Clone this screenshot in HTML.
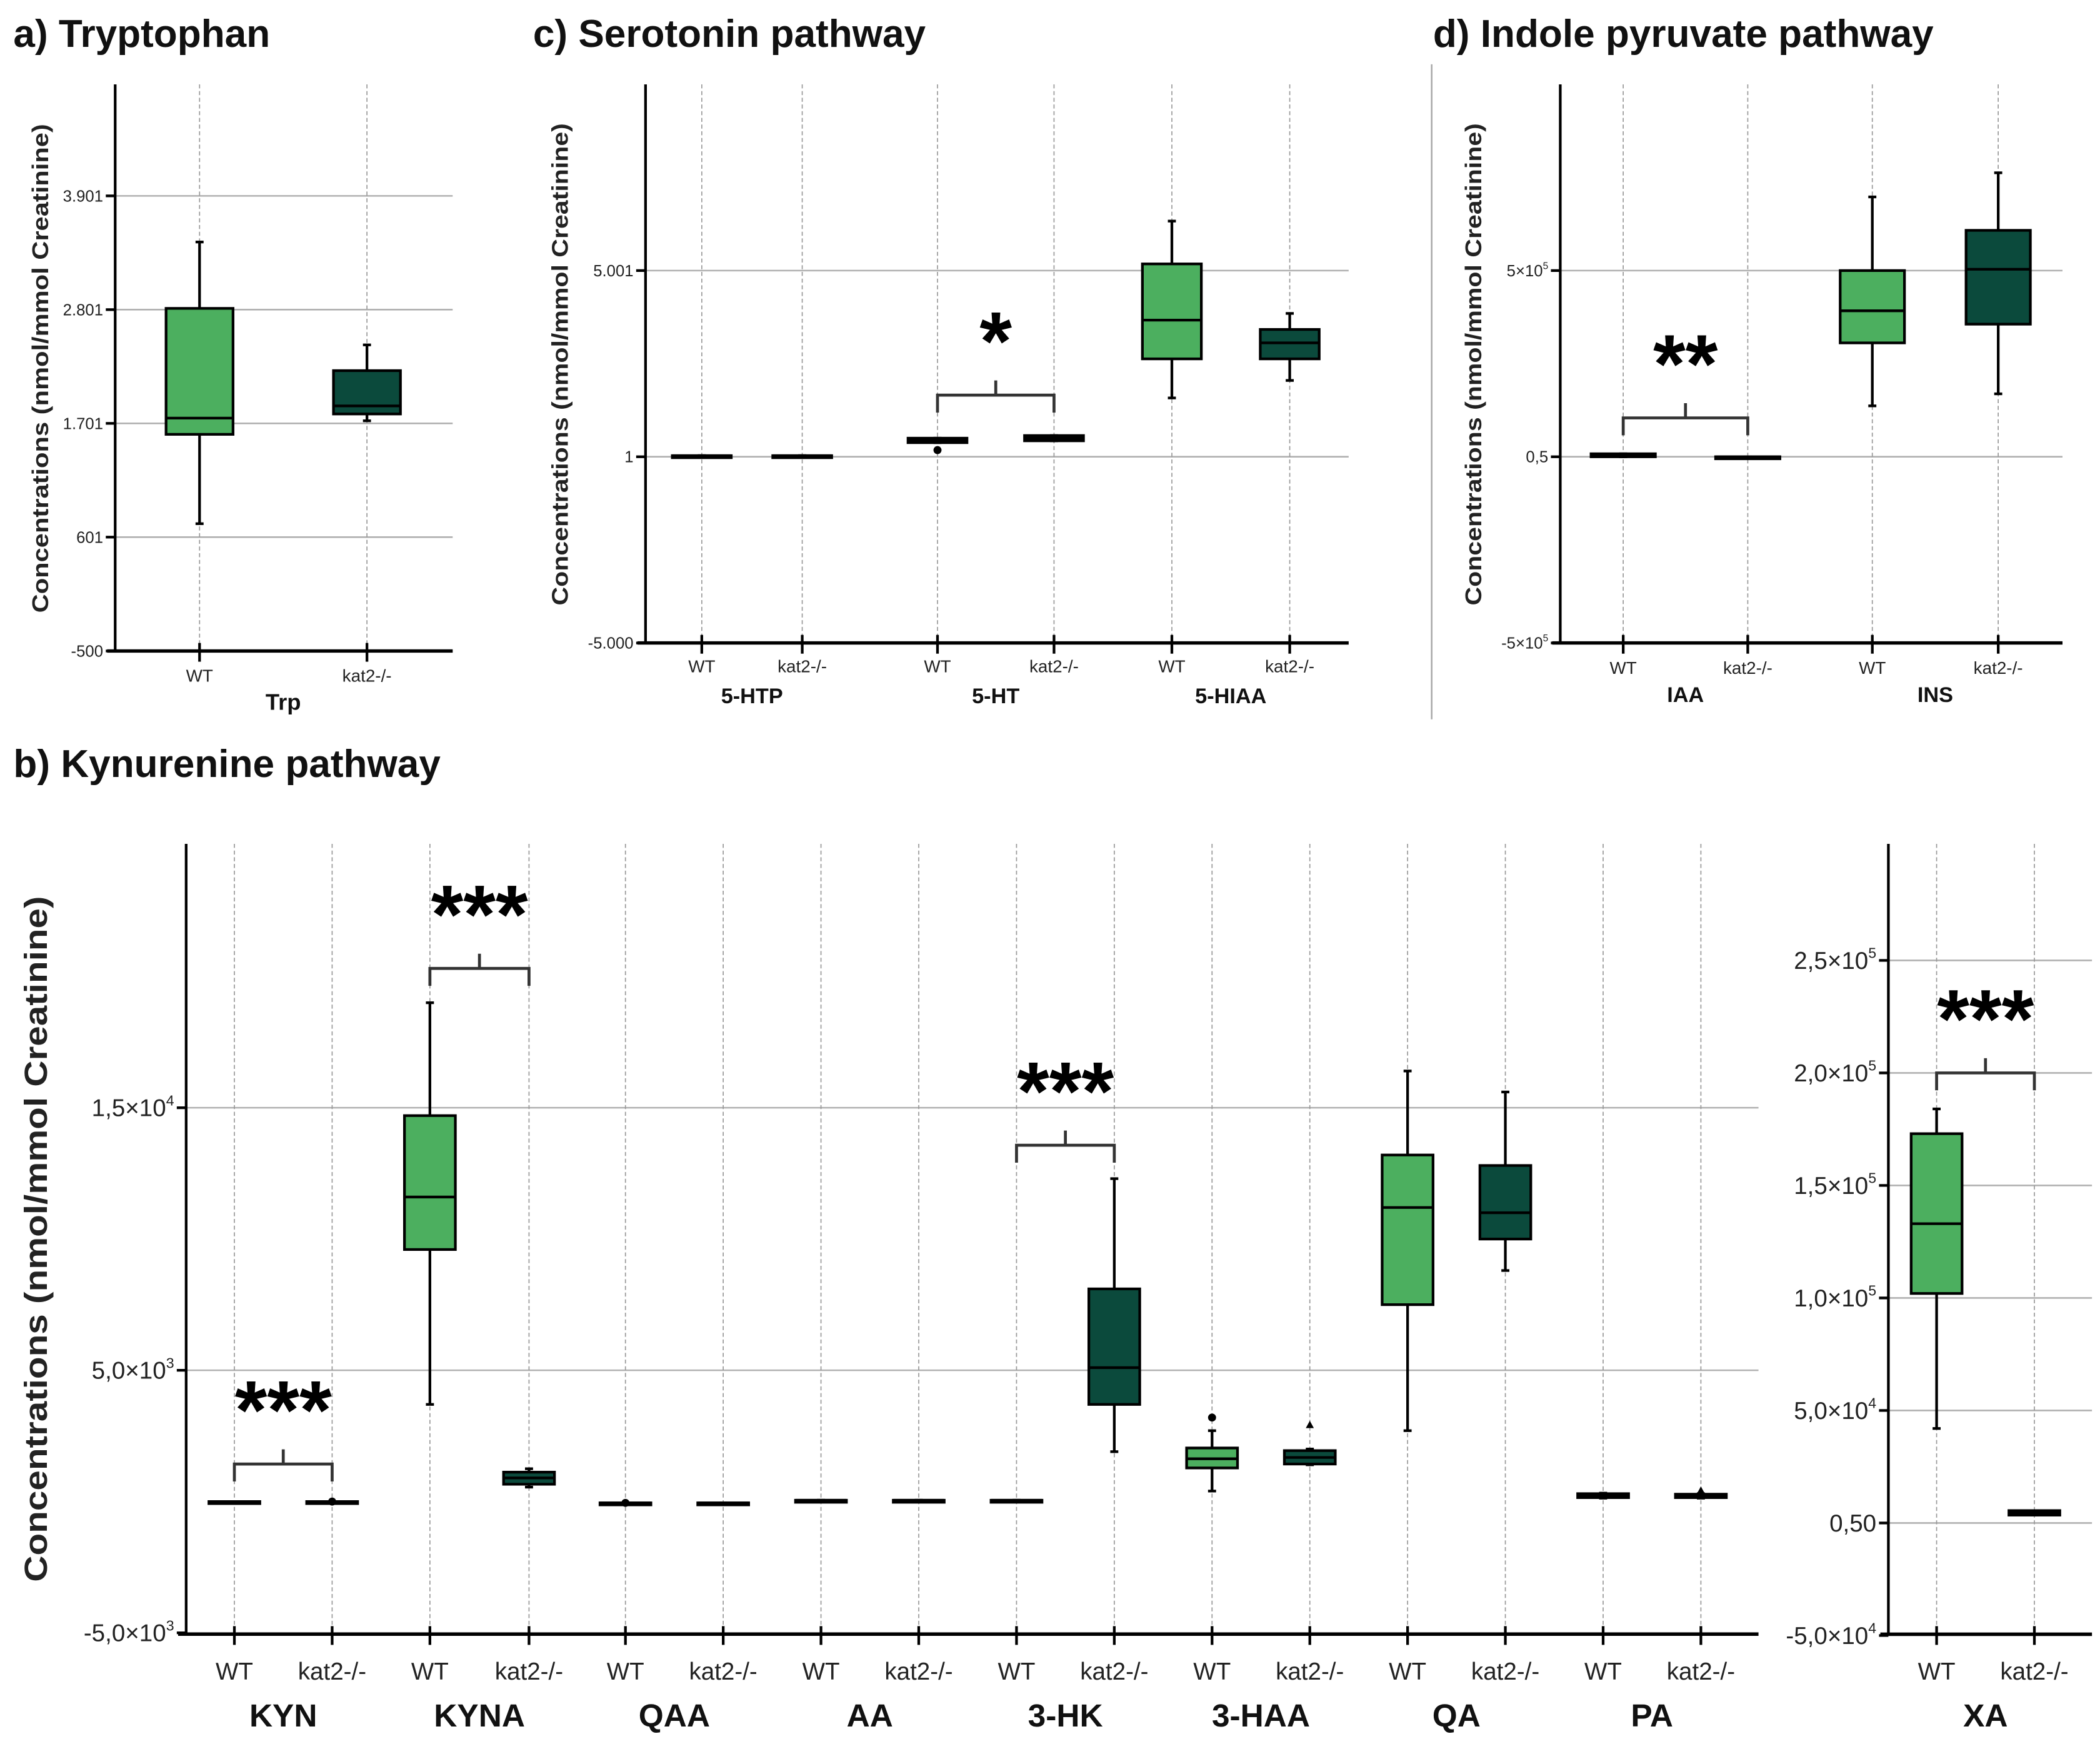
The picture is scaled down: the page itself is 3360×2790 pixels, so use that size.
<!DOCTYPE html>
<html><head><meta charset="utf-8"><style>
html,body{margin:0;padding:0;background:#fff}
svg{display:block}
text{font-family:"Liberation Sans",sans-serif}
</style></head><body>
<svg id="fig" width="3360" height="2790" viewBox="0 0 1568 1302" xmlns="http://www.w3.org/2000/svg"></svg>
<script>
// ---------- DATA ----------
// box stats: [whiskerLow, q1, median, q3, whiskerHigh]
const trpGroups = ["Trp"];
const trpWT = [731, 1595, 1752, 2813, 3455];
const trpKO = [1726, 1792, 1870, 2211, 2460];
const trpTicks = [-500, 601, 1701, 2801, 3901];
const trpTickLabels = ["-500", "601", "1.701", "2.801", "3.901"];

const serGroups = ["5-HTP", "5-HT", "5-HIAA"];
const serWT = [[30,30,30,30,30],[380,380,430,500,500],[1580,2630,3670,5180,6330]];
const serKO = [[30,30,30,30,30],[430,430,500,570,570],[2050,2630,3060,3420,3850]];
const serTicks = [-5000, 1, 5001];
const serTickLabels = ["-5.000", "1", "5.001"];

const indGroups = ["IAA", "INS"];
const indWT = [[0,0,5000,8000,8000],[136700,305800,392000,500000,697800]];
const indKO = [[0,0,0,0,0],[169000,356100,503600,608000,762600]];
const indTicks = [-500000, 0.5, 500000];
const indTickLabels = [["-5×10","5"], ["0,5",""], ["5×10","5"]];

const kynGroups = ["KYN","KYNA","QAA","AA","3-HK","3-HAA","QA","PA"];
const kynWT = [[0,0,0,0,0],[3700,9600,11600,14700,19000],[-50,-50,-50,-50,-50],[50,50,50,50,50],[50,50,50,50,50],[400,1280,1630,2040,2700],[2700,7500,11200,13200,16400],[130,150,220,300,320]];
const kynKO = [[0,0,0,0,0],[550,660,900,1120,1250],[-50,-50,-50,-50,-50],[50,50,50,50,50],[1900,3700,5100,8100,12300],[1400,1430,1680,1940,2000],[8800,10000,11000,12800,15600],[130,150,200,280,300]];
const kynTicks = [-5000, 5000, 15000];
const kynTickLabels = [["-5,0×10","3"],["5,0×10","3"],["1,5×10","4"]];

const xaGroups = ["XA"];
const xaWT = [42000, 102000, 133000, 173000, 184000];
const xaKO = [3500, 3500, 4500, 5500, 5500];
const xaTicks = [-50000, 0.5, 50000, 100000, 150000, 200000, 250000];
const xaTickLabels = [["-5,0×10","4"],["0,50",""],["5,0×10","4"],["1,0×10","5"],["1,5×10","5"],["2,0×10","5"],["2,5×10","5"]];

// ---------- DRAW ----------
const NS = "http://www.w3.org/2000/svg";
const svg = document.getElementById("fig");
const LIGHT = "#4caf5f", DARK = "#0b4a3c";
function el(tag, attrs, parent, txt) {
  const e = document.createElementNS(NS, tag);
  for (const k in attrs) e.setAttribute(k, attrs[k]);
  if (txt !== undefined) e.textContent = txt;
  (parent || svg).appendChild(e);
  return e;
}
function linScale(v0, p0, v1, p1) { return v => p0 + (v - v0) * (p1 - p0) / (v1 - v0); }

function drawPanel(cfg) {
  const g = el("g", {});
  
  
  const y = cfg.y;
  cfg.ticks.forEach((t, i) => {
    const gl = el("line", {x1: cfg.ax, x2: cfg.gridEnd, y1: y(t), y2: y(t), stroke: "#b0b0b0", "stroke-width": 1.2}, g);
    
    
  });
  cfg.cats.forEach(cx => {
    const vl = el("line", {x1: cx, x2: cx, y1: cfg.top, y2: cfg.base, stroke: "#999", "stroke-width": 0.8, "stroke-dasharray": "3,2"}, g);
    
    
  });
  const ya = el("line", {x1: cfg.ax, x2: cfg.ax, y1: cfg.top, y2: cfg.base, stroke: "#000", "stroke-width": 2}, g);
  
  
  const xa = el("line", {x1: cfg.ax - 6, x2: cfg.xEnd, y1: cfg.base, y2: cfg.base, stroke: "#000", "stroke-width": 2.5}, g);
  
  
  cfg.ticks.forEach((t, i) => {
    el("line", {x1: cfg.ax - 7, x2: cfg.ax, y1: y(t), y2: y(t), stroke: "#000", "stroke-width": 2}, g);
    const lab = cfg.labels[i];
    const tx = el("text", {x: cfg.ax - 9, y: y(t) + cfg.tfs * 0.35, "text-anchor": "end", "font-size": cfg.tfs, fill: "#222"}, g);
    
    
    if (Array.isArray(lab)) {
      el("tspan", {}, tx, lab[0]);
      if (lab[1]) el("tspan", {"font-size": cfg.tfs * 0.6, dy: -cfg.tfs * 0.45}, tx, lab[1]);
    } else tx.textContent = lab;
  });
  cfg.cats.forEach((cx, i) => {
    el("line", {x1: cx, x2: cx, y1: cfg.base - 6, y2: cfg.base + 8, stroke: "#000", "stroke-width": 2}, g);
    const t = el("text", {x: cx, y: cfg.base + cfg.xlOff, "text-anchor": "middle", "font-size": cfg.xfs, fill: "#222"}, g, i % 2 ? "kat2-/-" : "WT");
    
    
  });
  cfg.groups.forEach((nm, i) => {
    const cx = (cfg.cats[2 * i] + cfg.cats[2 * i + 1]) / 2;
    const t = el("text", {x: cx, y: cfg.base + cfg.glOff, "text-anchor": "middle", "font-size": cfg.gfs, "font-weight": "bold", fill: "#111"}, g, nm);
    
    
  });
  const series = [];
  cfg.groups.forEach((nm, i) => { series.push([cfg.cats[2*i], cfg.wt[i], LIGHT]); series.push([cfg.cats[2*i+1], cfg.ko[i], DARK]); });
  series.forEach(([cx, s, col]) => {
    const hw = cfg.hw;
    const bg = el("g", {}, g);
    
    
    el("line", {x1: cx, x2: cx, y1: y(s[0]), y2: y(s[4]), stroke: "#000", "stroke-width": 2}, bg);
    el("line", {x1: cx - 3, x2: cx + 3, y1: y(s[0]), y2: y(s[0]), stroke: "#000", "stroke-width": 2}, bg);
    el("line", {x1: cx - 3, x2: cx + 3, y1: y(s[4]), y2: y(s[4]), stroke: "#000", "stroke-width": 2}, bg);
    const h = Math.max(y(s[1]) - y(s[3]), 1.5);
    el("rect", {x: cx - hw, y: y(s[3]), width: 2 * hw, height: h, fill: col, stroke: "#000", "stroke-width": 2}, bg);
    el("line", {x1: cx - hw, x2: cx + hw, y1: y(s[2]), y2: y(s[2]), stroke: "#000", "stroke-width": 2}, bg);
  });
  const yt = el("text", {transform: `translate(${cfg.ytx},${cfg.yty}) rotate(-90)`, "text-anchor": "middle", "font-size": cfg.ytfs, "font-weight": "bold", fill: "#222", textLength: cfg.ytLen, lengthAdjust: "spacingAndGlyphs"}, g, "Concentrations (nmol/mmol Creatinine)");
  
  
  (cfg.sig || []).forEach(([i1, i2, yy, stars, sfs]) => {
    const x1 = cfg.cats[i1], x2 = cfg.cats[i2], m = (x1 + x2) / 2;
    const sg = el("g", {}, g);
    
    
    el("path", {d: `M${x1},${yy+13} V${yy} H${x2} V${yy+13} M${m},${yy} V${yy-11}`, fill: "none", stroke: "#333", "stroke-width": 2.2}, sg);
    el("text", {x: m, y: yy - 19, "text-anchor": "middle", "font-size": sfs, "font-weight": "bold", fill: "#000"}, sg, stars);
  });
  (cfg.out || []).forEach(([ci, v, shape]) => {
    const cx = cfg.cats[ci], cy = y(v);
    const o = shape === "tri" ? el("path", {d: `M${cx},${cy-3.5} L${cx+3},${cy+2} L${cx-3},${cy+2} Z`, fill: "#000"}, g)
                              : el("circle", {cx: cx, cy: cy, r: 3, fill: "#000"}, g);
    
    
  });
}

[["a) Tryptophan", 10], ["c) Serotonin pathway", 398], ["d) Indole pyruvate pathway", 1070]].forEach(([t, x]) => {
  const e = el("text", {x: x, y: 35, "font-size": 29, "font-weight": "bold", fill: "#111"}, svg, t);
  
  
});
const tb = el("text", {x: 10, y: 580, "font-size": 29, "font-weight": "bold", fill: "#111"}, svg, "b) Kynurenine pathway");


const dv = el("line", {x1: 1069, x2: 1069, y1: 48, y2: 537, stroke: "#aaa", "stroke-width": 1.2});



drawPanel({name: "panel-a-tryptophan", y: linScale(-500, 486, 601, 401), ticks: trpTicks, labels: trpTickLabels,
  ax: 86, top: 63, base: 486, gridEnd: 338, xEnd: 338, cats: [149, 274], groups: trpGroups, wt: [trpWT], ko: [trpKO],
  hw: 25, tfs: 12, xfs: 13, gfs: 17, xlOff: 23, glOff: 44, ytx: 36, yty: 275, ytfs: 17, ytLen: 365});
drawPanel({name: "panel-c-serotonin", y: linScale(1, 341, 5001, 202), ticks: serTicks, labels: serTickLabels,
  ax: 482, top: 63, base: 480, gridEnd: 1007, xEnd: 1007, cats: [524, 599, 700, 787, 875, 963], groups: serGroups, wt: serWT, ko: serKO,
  hw: 22, tfs: 12, xfs: 13, gfs: 16, xlOff: 22, glOff: 45, ytx: 424, yty: 272, ytfs: 17, ytLen: 360,
  sig: [[2, 3, 295, "*", 62]], out: [[2, 180, "dot"]]});
drawPanel({name: "panel-d-indole-pyruvate", y: linScale(0, 341, 500000, 202), ticks: indTicks, labels: indTickLabels,
  ax: 1165, top: 63, base: 480, gridEnd: 1540, xEnd: 1540, cats: [1212, 1305, 1398, 1492], groups: indGroups, wt: indWT, ko: indKO,
  hw: 24, tfs: 12, xfs: 13, gfs: 16, xlOff: 23, glOff: 44, ytx: 1106, yty: 272, ytfs: 17, ytLen: 360,
  sig: [[0, 1, 312, "**", 62]]});
drawPanel({name: "panel-b-kynurenine", y: linScale(0, 1121, 10000, 925), ticks: kynTicks, labels: kynTickLabels,
  ax: 139, top: 630, base: 1220, gridEnd: 1313, xEnd: 1313,
  cats: [175, 248, 321, 395, 467, 540, 613, 686, 759, 832, 905, 978, 1051, 1124, 1197, 1270], groups: kynGroups, wt: kynWT, ko: kynKO,
  hw: 19, tfs: 18, xfs: 18, gfs: 24, xlOff: 34, glOff: 69, ytx: 35, yty: 925, ytfs: 24, ytLen: 512,
  sig: [[0, 1, 1093, "***", 62], [2, 3, 723, "***", 62], [8, 9, 855, "***", 62]],
  out: [[1, 0, "dot"], [4, -50, "dot"], [10, 3200, "dot"], [11, 2900, "tri"], [15, 400, "tri"]]});
drawPanel({name: "panel-b-xanthurenic-acid", y: linScale(0, 1137, 50000, 1053), ticks: xaTicks, labels: xaTickLabels,
  ax: 1410, top: 630, base: 1220, gridEnd: 1562, xEnd: 1562, cats: [1446, 1519], groups: xaGroups, wt: [xaWT], ko: [xaKO],
  hw: 19, tfs: 18, xfs: 18, gfs: 24, xlOff: 34, glOff: 69, ytx: -100, yty: -100, ytfs: 1, ytLen: 1,
  sig: [[0, 1, 801, "***", 62]]});
</script>
</body></html>
